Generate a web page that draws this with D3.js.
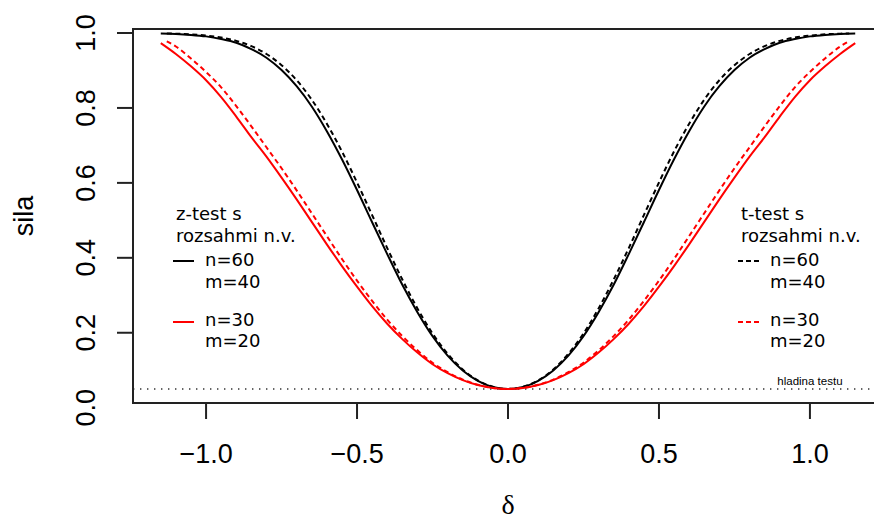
<!DOCTYPE html>
<html>
<head>
<meta charset="utf-8">
<script src="https://cdn.jsdelivr.net/npm/d3@7"></script>
<style>
  html, body { margin: 0; padding: 0; background: #fff; }
  svg { display: block; }
  .tick-label { font-family: "Liberation Sans", Arial, sans-serif; font-size: 27px; fill: #000; }
  .legend { font-family: "DejaVu Sans", Verdana, sans-serif; font-size: 18px; fill: #000; }
</style>
</head>
<body>
<svg id="chart" width="874" height="520"></svg>
<script>
// delta values (right half; curves are symmetric around 0)
const zDeltaHalf = [0, 0.05, 0.10, 0.15, 0.20, 0.25, 0.30, 0.35, 0.40, 0.45, 0.50, 0.55,
                    0.60, 0.65, 0.70, 0.75, 0.80, 0.85, 0.90, 0.95, 1.00, 1.05, 1.10, 1.15];
const tDeltaHalf = [0, 0.05, 0.10, 0.15, 0.20, 0.25, 0.30, 0.35, 0.40, 0.45, 0.50, 0.55,
                    0.60, 0.65, 0.70, 0.75, 0.80, 0.85, 0.90, 0.95, 1.00, 1.05, 1.10, 1.13];
// power, z-test, n=60 m=40
const zTest6040 = [0.05, 0.0554, 0.0718, 0.0995, 0.139, 0.191, 0.255, 0.328, 0.410, 0.495, 0.581, 0.663,
                   0.738, 0.804, 0.858, 0.901, 0.934, 0.957, 0.974, 0.984, 0.991, 0.995, 0.9975, 0.9987];
// power, t-test, n=60 m=40
const tTest6040 = [0.05, 0.0557, 0.0728, 0.102, 0.144, 0.198, 0.265, 0.342, 0.426, 0.514, 0.601, 0.684,
                   0.758, 0.822, 0.874, 0.914, 0.944, 0.965, 0.979, 0.988, 0.993, 0.9965, 0.9982, 0.9988];
// power, z-test, n=30 m=20
const zTest3020 = [0.05, 0.0525, 0.0604, 0.0735, 0.092, 0.116, 0.147, 0.183, 0.224, 0.271, 0.323, 0.378,
                   0.436, 0.496, 0.556, 0.614, 0.670, 0.722, 0.777, 0.829, 0.874, 0.911, 0.944, 0.973];
// power, t-test, n=30 m=20
const tTest3020 = [0.05, 0.0527, 0.0612, 0.0750, 0.0947, 0.120, 0.153, 0.191, 0.235, 0.285, 0.339, 0.397,
                   0.458, 0.519, 0.580, 0.639, 0.695, 0.751, 0.805, 0.855, 0.896, 0.932, 0.964, 0.978];

const xTicks = [-1.0, -0.5, 0.0, 0.5, 1.0];
const yTicks = [0.2, 0.4, 0.6, 0.8, 1.0];
const yLabels = [0.0, 0.2, 0.4, 0.6, 0.8, 1.0];
const alpha = 0.05;

const leftLegendTitle = ['z-test s', 'rozsahmi n.v.'];
const rightLegendTitle = ['t-test s', 'rozsahmi n.v.'];
const legendItems = [
  { lines: ['n=60', 'm=40'], color: '#000000' },
  { lines: ['n=30', 'm=20'], color: '#ff0000' }
];

const svg = d3.select('#chart');

// plot region (R style, x extended 4%)
const xLim = [-1.242, 1.242];
const yLim = [0.0125, 1.0107];
const box = { left: 133, right: 883, top: 29, bottom: 403 };

const x = d3.scaleLinear().domain(xLim).range([box.left, box.right]);
const y = d3.scaleLinear().domain(yLim).range([box.bottom, box.top]);

// mirror the half curves into full symmetric series
function fullSeries(deltas, vals) {
  const pts = [];
  for (let i = deltas.length - 1; i > 0; i--) pts.push([-deltas[i], vals[i]]);
  for (let i = 0; i < deltas.length; i++) pts.push([deltas[i], vals[i]]);
  return pts;
}

const line = d3.line()
  .x(d => x(d[0]))
  .y(d => y(d[1]))
  .curve(d3.curveMonotoneX);

const series = [
  { deltas: zDeltaHalf, data: zTest6040, color: '#000000', dash: null },
  { deltas: tDeltaHalf, data: tTest6040, color: '#000000', dash: '5,3.5' },
  { deltas: zDeltaHalf, data: zTest3020, color: '#ff0000', dash: null },
  { deltas: tDeltaHalf, data: tTest3020, color: '#ff0000', dash: '5,3.5' }
];

const clipId = 'plotclip';
svg.append('clipPath').attr('id', clipId)
  .append('rect')
  .attr('x', box.left).attr('y', box.top)
  .attr('width', box.right - box.left).attr('height', box.bottom - box.top);

const plot = svg.append('g').attr('clip-path', `url(#${clipId})`);

// significance level line
plot.append('line')
  .attr('x1', x(xLim[0])).attr('x2', x(xLim[1]))
  .attr('y1', y(alpha)).attr('y2', y(alpha))
  .attr('stroke', '#333')
  .attr('stroke-width', 1.6)
  .attr('stroke-dasharray', '1.4,5.6');

series.forEach(s => {
  plot.append('path')
    .datum(fullSeries(s.deltas, s.data))
    .attr('d', line)
    .attr('fill', 'none')
    .attr('stroke', s.color)
    .attr('stroke-width', 2)
    .attr('stroke-dasharray', s.dash);
});

svg.append('text')
  .attr('x', x(1.0))
  .attr('y', y(alpha) - 4)
  .attr('text-anchor', 'middle')
  .style('font-family', '"Liberation Sans", Arial, sans-serif')
  .style('font-size', '11.5px')
  .text('hladina testu');

// box
svg.append('rect')
  .attr('x', box.left).attr('y', box.top)
  .attr('width', box.right - box.left).attr('height', box.bottom - box.top)
  .attr('fill', 'none')
  .attr('stroke', '#222')
  .attr('stroke-width', 2);

// x axis
const xAxis = svg.append('g');
xTicks.forEach(t => {
  xAxis.append('line')
    .attr('x1', x(t)).attr('x2', x(t))
    .attr('y1', box.bottom).attr('y2', box.bottom + 16)
    .attr('stroke', '#222').attr('stroke-width', 2);
  xAxis.append('text')
    .attr('class', 'tick-label')
    .attr('x', x(t)).attr('y', 463)
    .attr('text-anchor', 'middle')
    .text(d3.format('.1f')(t).replace('-', '\u2212'));
});

// y axis
const yAxis = svg.append('g');
yTicks.forEach(t => {
  yAxis.append('line')
    .attr('x1', box.left - 16).attr('x2', box.left)
    .attr('y1', y(t)).attr('y2', y(t))
    .attr('stroke', '#222').attr('stroke-width', 2);
});
yLabels.forEach(t => {
  yAxis.append('text')
    .attr('class', 'tick-label')
    .attr('transform', `translate(95,${y(t)}) rotate(-90)`)
    .attr('text-anchor', 'middle')
    .text(d3.format('.1f')(t));
});

// axis titles
svg.append('text')
  .attr('class', 'tick-label')
  .attr('transform', `translate(33,${(box.top + box.bottom) / 2}) rotate(-90)`)
  .attr('text-anchor', 'middle')
  .text('sila');

svg.append('text')
  .attr('x', x(0)).attr('y', 514)
  .attr('text-anchor', 'middle')
  .style('font-family', '"Liberation Serif", "DejaVu Serif", serif')
  .style('font-size', '28px')
  .text('\u03b4');

// legends
function drawLegend(titleLines, x0, lineX0, lineX1, textX, dash) {
  const g = svg.append('g').attr('class', 'legend');
  const titleBase = [220, 242];
  titleLines.forEach((t, i) => {
    g.append('text').attr('x', x0).attr('y', titleBase[i]).text(t);
  });
  const itemBase = [[266, 288], [326, 347]];
  const lineY = [261, 322];
  legendItems.forEach((it, i) => {
    g.append('line')
      .attr('x1', lineX0).attr('x2', lineX1)
      .attr('y1', lineY[i]).attr('y2', lineY[i])
      .attr('stroke', it.color).attr('stroke-width', 2)
      .attr('stroke-dasharray', dash);
    it.lines.forEach((t, j) => {
      g.append('text').attr('x', textX).attr('y', itemBase[i][j]).text(t);
    });
  });
}

drawLegend(leftLegendTitle, 176, 173, 194, 205, null);
drawLegend(rightLegendTitle, 741, 738, 759, 770, '5,3');
</script>
</body>
</html>
